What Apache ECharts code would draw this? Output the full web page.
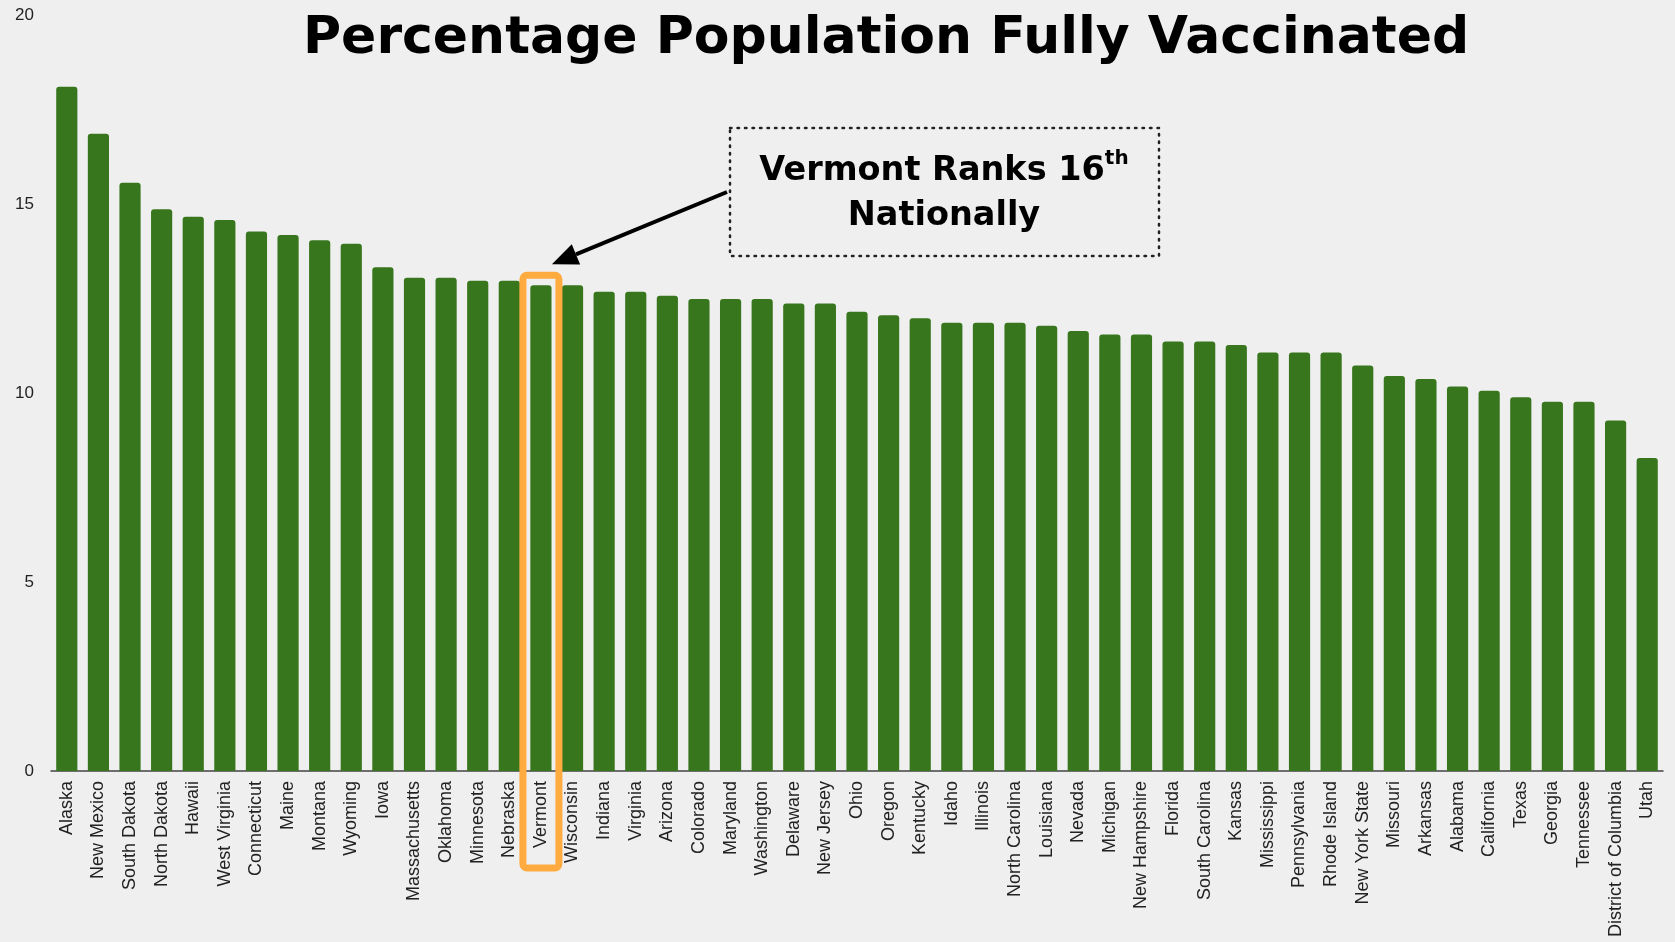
<!DOCTYPE html>
<html>
<head>
<meta charset="utf-8">
<script src="https://cdn.jsdelivr.net/npm/echarts@6/dist/echarts.min.js"></script>
<style>
    html, body { margin: 0; padding: 0; background: #efefef; }
    #main { width: 1675px; height: 942px; }
</style>
</head>
<body>
<div id="main"></div>
<script>
    var states = ['Alaska', 'New Mexico', 'South Dakota', 'North Dakota', 'Hawaii', 'West Virginia',
        'Connecticut', 'Maine', 'Montana', 'Wyoming', 'Iowa', 'Massachusetts', 'Oklahoma', 'Minnesota',
        'Nebraska', 'Vermont', 'Wisconsin', 'Indiana', 'Virginia', 'Arizona', 'Colorado', 'Maryland',
        'Washington', 'Delaware', 'New Jersey', 'Ohio', 'Oregon', 'Kentucky', 'Idaho', 'Illinois',
        'North Carolina', 'Louisiana', 'Nevada', 'Michigan', 'New Hampshire', 'Florida', 'South Carolina',
        'Kansas', 'Mississippi', 'Pennsylvania', 'Rhode Island', 'New York State', 'Missouri', 'Arkansas',
        'Alabama', 'California', 'Texas', 'Georgia', 'Tennessee', 'District of Columbia', 'Utah'];
    var pctFully = [18.1, 16.86, 15.56, 14.86, 14.66, 14.58,
        14.27, 14.18, 14.04, 13.95, 13.33, 13.05, 13.05, 12.97,
        12.97, 12.85, 12.85, 12.68, 12.68, 12.57, 12.49, 12.49,
        12.49, 12.37, 12.37, 12.15, 12.06, 11.98, 11.86, 11.86,
        11.86, 11.78, 11.64, 11.55, 11.55, 11.36, 11.36,
        11.27, 11.07, 11.07, 11.07, 10.73, 10.45, 10.37,
        10.17, 10.06, 9.89, 9.77, 9.77, 9.27, 8.28];
    var yTicks = [0, 20, 5]; // min, max, interval
    var highlight = 'Vermont';

    var chart = echarts.init(document.getElementById('main'));
    var option = {
        backgroundColor: '#efefef',
        animation: false,
        title: {
            text: 'Percentage Population Fully Vaccinated',
            left: 298,
            top: 8,
            textStyle: {
                fontFamily: 'DejaVu Sans',
                fontWeight: 'bold',
                fontSize: 52,
                color: '#000'
            }
        },
        grid: {
            left: 51,
            right: 12,
            top: 15,
            bottom: 171
        },
        xAxis: {
            type: 'category',
            data: states,
            axisTick: {show: false},
            axisLine: {lineStyle: {color: '#444', width: 1.5}},
            axisLabel: {
                interval: 0,
                rotate: 90,
                margin: 10,
                color: '#222',
                fontFamily: 'Liberation Sans',
                fontSize: 18
            }
        },
        yAxis: {
            type: 'value',
            min: yTicks[0],
            max: yTicks[1],
            interval: yTicks[2],
            splitLine: {show: false},
            axisLine: {show: false},
            axisTick: {show: false},
            axisLabel: {
                margin: 17,
                color: '#222',
                fontFamily: 'Liberation Sans',
                fontSize: 17
            }
        },
        series: [{
            type: 'bar',
            data: pctFully,
            barCategoryGap: '33%',
            itemStyle: {
                color: '#38761d',
                borderRadius: [3, 3, 0, 0]
            }
        }]
    };
    chart.setOption(option);

    // 高亮框 + 注释
    var idx = states.indexOf(highlight);
    var pt = chart.convertToPixel({seriesIndex: 0}, [idx, pctFully[idx]]);
    var base = chart.convertToPixel({seriesIndex: 0}, [idx, 0]);
    var boxTop = pt[1] - 10;
    var tipX = pt[0] + 11, tipY = boxTop - 11;
    var fromX = 727, fromY = 192;
    var ang = Math.atan2(tipY - fromY, tipX - fromX);
    var headLen = 26, headW = 11;
    var bx = tipX - headLen * Math.cos(ang), by = tipY - headLen * Math.sin(ang);
    chart.setOption({
        graphic: [
            {
                type: 'rect',
                shape: {x: pt[0] - 18, y: boxTop, width: 36, height: base[1] + 97 - boxTop, r: 4},
                style: {fill: 'none', stroke: '#ffab40', lineWidth: 7},
                z: 100
            },
            {
                type: 'line',
                shape: {x1: fromX, y1: fromY, x2: bx, y2: by},
                style: {stroke: '#000', lineWidth: 4},
                z: 100
            },
            {
                type: 'polygon',
                shape: {points: [
                    [tipX, tipY],
                    [bx + headW * Math.sin(ang), by - headW * Math.cos(ang)],
                    [bx - headW * Math.sin(ang), by + headW * Math.cos(ang)]
                ]},
                style: {fill: '#000'},
                z: 100
            },
            {
                type: 'rect',
                shape: {x: 730, y: 128, width: 429, height: 128},
                style: {fill: 'none', stroke: '#222', lineWidth: 2.5, lineDash: [1.5, 6], lineCap: 'round'},
                z: 100
            },
            {
                type: 'text',
                x: 944,
                y: 194,
                style: {
                    text: '{m|Vermont Ranks 16}{s|th}\n{m|Nationally}',
                    align: 'center',
                    verticalAlign: 'middle',
                    fill: '#000',
                    rich: {
                        m: {fontFamily: 'DejaVu Sans', fontWeight: 'bold', fontSize: 33.5, lineHeight: 45, fill: '#000'},
                        s: {fontFamily: 'DejaVu Sans', fontWeight: 'bold', fontSize: 20, lineHeight: 45, verticalAlign: 'top', padding: [0, 0, 14, 0], fill: '#000'}
                    }
                },
                z: 100
            }
        ]
    });
</script>
</body>
</html>
